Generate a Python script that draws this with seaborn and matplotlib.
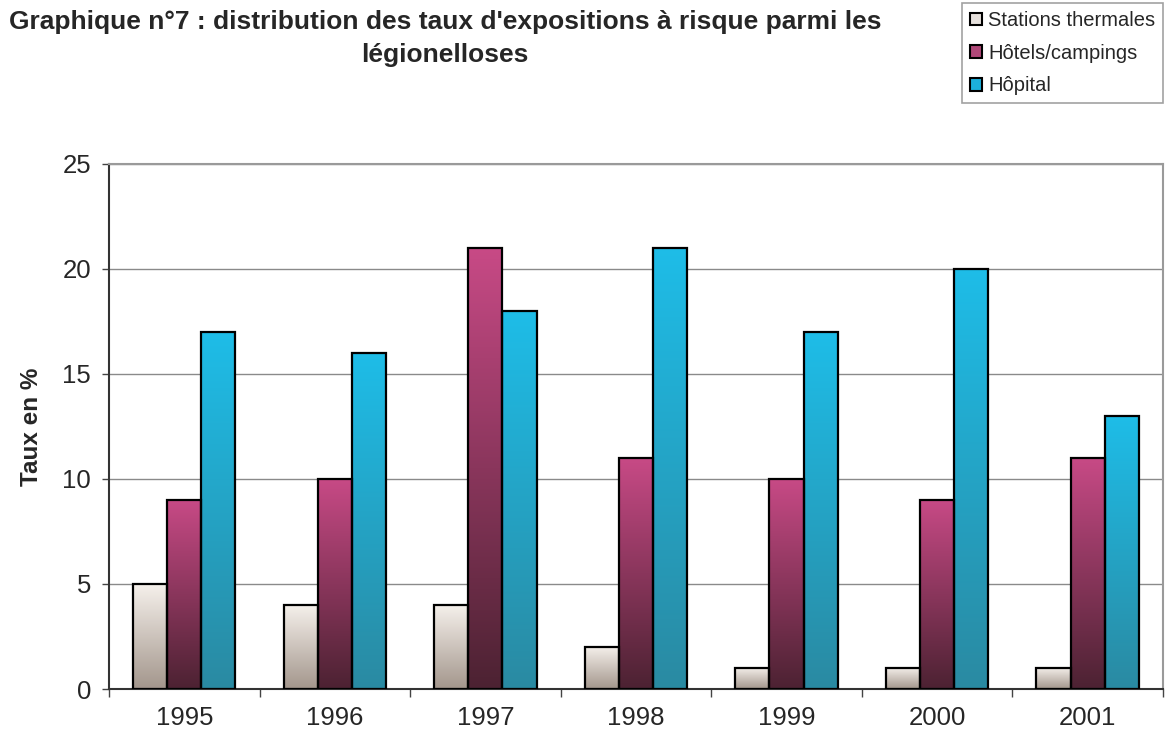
import numpy as np
import pandas as pd
import seaborn as sns
import matplotlib as mpl
import matplotlib.pyplot as plt
from matplotlib.colors import LinearSegmentedColormap
from matplotlib.patches import Patch

# data
years = ['1995', '1996', '1997', '1998', '1999', '2000', '2001']
series = ['Stations thermales', 'Hôtels/campings', 'Hôpital']
thermales = [5, 4, 4, 2, 1, 1, 1]
hotels = [9, 10, 21, 11, 10, 9, 11]
hopital = [17, 16, 18, 21, 17, 20, 13]

# top / bottom colours of the gradient fill, per series
topCols = ['#f6f1ec', '#c84a86', '#1ebde8']
botCols = ['#a3968c', '#4c2232', '#2a8aa2']
legCols = ['#e6e0dc', '#b04878', '#1cb0dc']

df = pd.DataFrame({
    'annee': years * 3,
    'serie': [s for s in series for _ in years],
    'taux': thermales + hotels + hopital,
})

sns.set_style('white')
plt.rcParams['font.family'] = ['Liberation Sans', 'DejaVu Sans']

fig = plt.figure(figsize=(11.68, 7.46), dpi=100)
ax = fig.add_axes([0.0933, 0.0764, 0.9024, 0.7038])

sns.barplot(data=df, x='annee', y='taux', hue='serie', hue_order=series,
            palette=legCols, width=0.68, gap=0, ax=ax, legend=False,
            edgecolor='black', linewidth=1.6)

ax.set_xlim(-0.5, 6.5)
ax.set_ylim(0, 25)

# gradient fills clipped to each bar
nYears = len(years)
for i, p in enumerate(ax.patches):
    h = p.get_height()
    if h <= 0:
        continue
    k = i // nYears
    cmap = LinearSegmentedColormap.from_list('g%d' % i, [botCols[k], topCols[k]])
    x0 = p.get_x()
    w = p.get_width()
    grad = np.linspace(0, 1, 256).reshape(-1, 1)
    im = ax.imshow(grad, cmap=cmap, origin='lower', aspect='auto',
                   extent=[x0, x0 + w, 0, h], zorder=2)
    im.set_clip_path(p)
    p.set_facecolor('none')
    p.set_zorder(3)

ax.set_xlim(-0.5, 6.5)
ax.set_ylim(0, 25)

ax.set_yticks(range(0, 26, 5))
ax.yaxis.grid(True, color='#8a8a8a', linewidth=1.0)
ax.set_axisbelow(True)
ax.tick_params(axis='y', labelsize=18.5, length=5, width=1, left=True, color='#444444', pad=8)
ax.tick_params(axis='x', which='major', labelsize=18.5, length=0, pad=12)
ax.set_xticks(np.arange(-0.5, 7, 1), minor=True)
ax.tick_params(axis='x', which='minor', length=6, width=1, color='#444444', bottom=True)

for s in ['top', 'right']:
    ax.spines[s].set_color('#9a9a9a')
    ax.spines[s].set_linewidth(1.5)
for s in ['left', 'bottom']:
    ax.spines[s].set_color('#333333')
    ax.spines[s].set_linewidth(1.5)

ax.set_xlabel('')
ax.set_ylabel('Taux en %', fontsize=17.5, fontweight='bold', labelpad=14)

fig.text(0.381, 0.986, "Graphique n°7 : distribution des taux d'expositions à risque parmi les\nlégionelloses",
         ha='center', va='top', fontsize=19, fontweight='bold', linespacing=1.45)

handles = [Patch(facecolor=c, edgecolor='black', linewidth=1.5) for c in legCols]
leg = fig.legend(handles, series, loc='upper right', bbox_to_anchor=(0.996, 0.996),
                 fontsize=14.5, frameon=True, fancybox=False, edgecolor='#8a8a8a',
                 handlelength=0.6, handleheight=0.6, handletextpad=0.3,
                 labelspacing=0.68, borderpad=0.4, borderaxespad=0)
leg.get_frame().set_linewidth(1.2)

fig.savefig('out.png', dpi=100)
